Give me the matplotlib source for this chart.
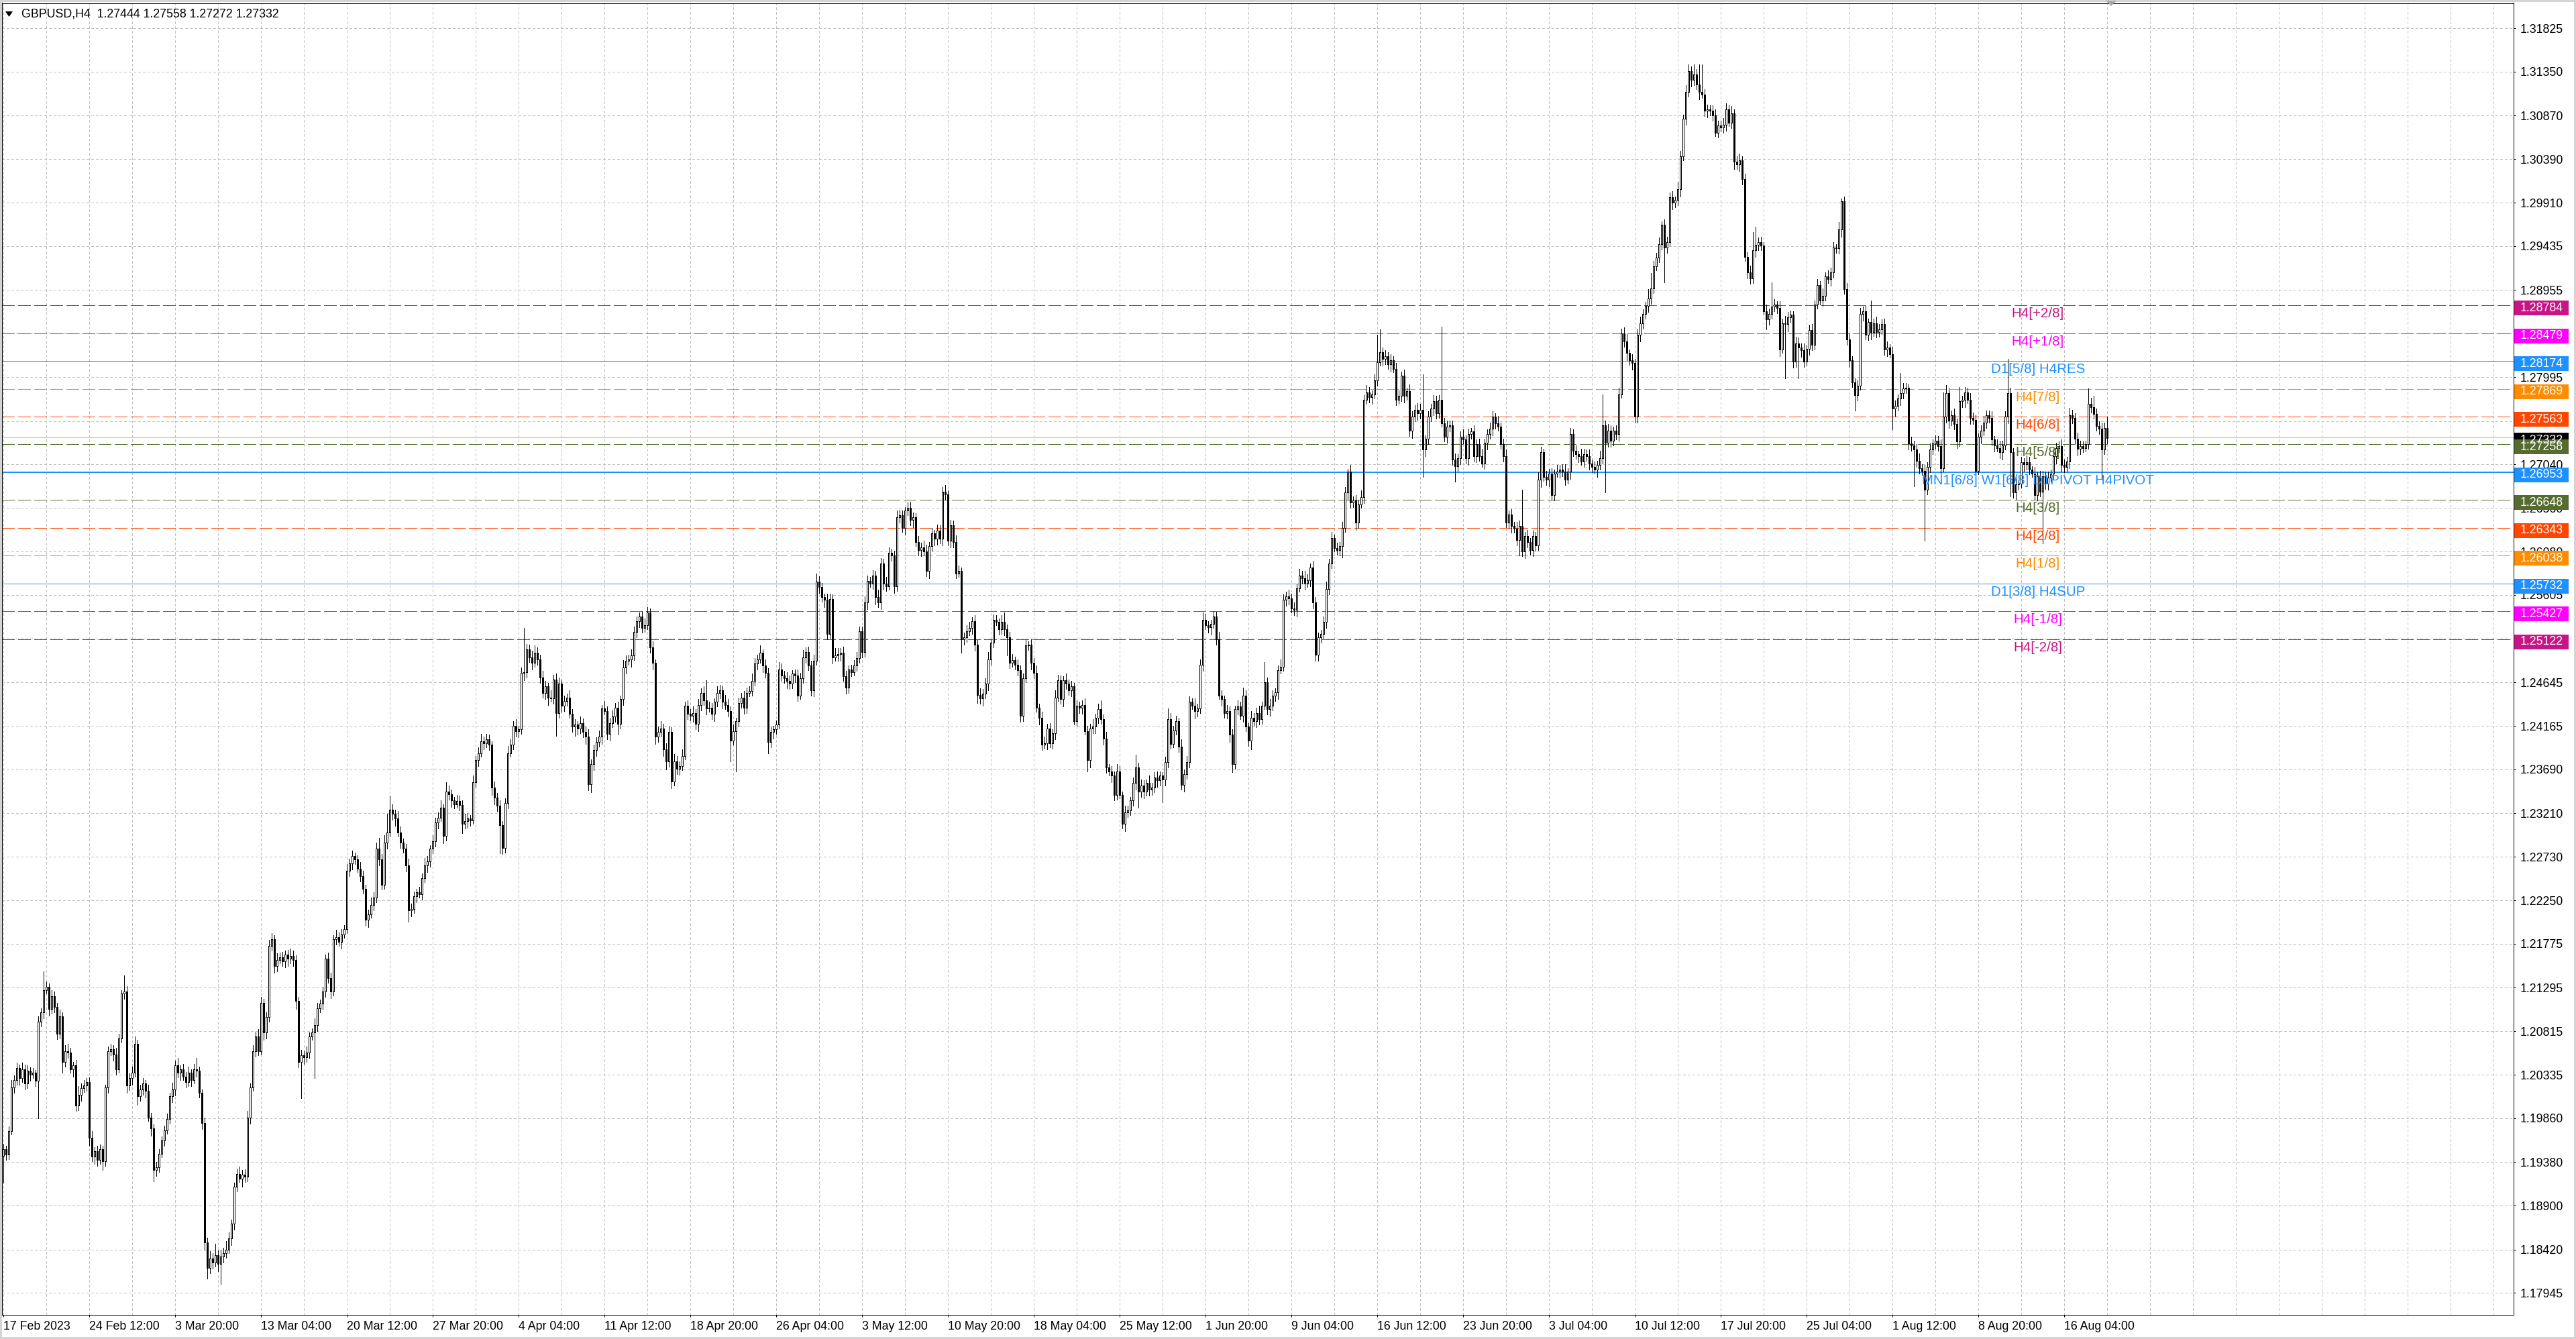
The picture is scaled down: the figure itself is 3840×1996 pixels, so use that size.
import numpy as np
import matplotlib
matplotlib.use("Agg")
import matplotlib.pyplot as plt
from matplotlib.patches import Rectangle, Polygon
from matplotlib.transforms import blended_transform_factory, offset_copy

plt.rcParams['font.family'] = ['Liberation Sans', 'DejaVu Sans']
plt.rcParams['lines.scale_dashes'] = False

# ---------------- data ----------------
header_text = "GBPUSD,H4  1.27444 1.27558 1.27272 1.27332"

first_open = 11945  # price * 10000
closes = [
    11952, 11946, 11972, 12020, 12028, 12041, 12030, 12040, 12024, 12038,
    12034, 12036, 12027, 12092, 12102, 12127, 12130, 12106, 12120, 12108,
    12079, 12098, 12048, 12060, 12058, 12040, 12044, 12000, 12012, 12019,
    12022, 12026, 11965, 11944, 11950, 11940, 11952, 11939, 12020, 12060,
    12062, 12056, 12040, 12074, 12123, 12125, 12022, 12030, 12036, 12068,
    12010, 12018, 12024, 12016, 11987, 11975, 11929, 11932, 11947, 11962,
    11973, 11985, 12010, 12018, 12044, 12036, 12040, 12032, 12026, 12036,
    12028, 12040, 12038, 12014, 11981, 11850, 11822, 11832, 11828, 11836,
    11826, 11834, 11838, 11842, 11854, 11870, 11911, 11925, 11920, 11924,
    11922, 11987, 12020, 12060, 12076, 12060, 12113, 12080, 12097, 12175,
    12183, 12153, 12160, 12163, 12158, 12166, 12161, 12164, 12160, 12115,
    12048, 12055, 12053, 12058, 12076, 12080, 12088, 12107, 12112, 12125,
    12161, 12140, 12125, 12183, 12185, 12180, 12188, 12194, 12258, 12266,
    12274, 12270, 12260, 12252, 12238, 12204, 12210, 12220, 12228, 12282,
    12270, 12242, 12289, 12300, 12325, 12320, 12315, 12300, 12289, 12282,
    12264, 12214, 12216, 12230, 12234, 12232, 12250, 12264, 12268, 12282,
    12290, 12311, 12316, 12327, 12296, 12345, 12342, 12335, 12331, 12334,
    12330, 12309, 12312, 12315, 12313, 12355, 12379, 12387, 12400, 12398,
    12402, 12396, 12349, 12338, 12329, 12308, 12283, 12332, 12387, 12396,
    12417, 12411, 12413, 12475, 12476, 12501, 12492, 12486, 12497, 12490,
    12470, 12453, 12460, 12448, 12447, 12468, 12431, 12463, 12439, 12444,
    12448, 12430, 12416, 12418, 12414, 12420, 12410, 12405, 12353, 12375,
    12390, 12399, 12405, 12436, 12433, 12408, 12420, 12427, 12437, 12419,
    12446, 12481, 12488, 12490, 12494, 12520, 12532, 12537, 12524, 12527,
    12541, 12503, 12486, 12405, 12410, 12414, 12391, 12378, 12410, 12356,
    12378, 12370, 12373, 12384, 12439, 12430, 12428, 12431, 12419, 12440,
    12453, 12445, 12436, 12437, 12430, 12443, 12453, 12456, 12443, 12440,
    12433, 12401, 12411, 12422, 12442, 12448, 12437, 12453, 12455, 12466,
    12485, 12490, 12497, 12483, 12475, 12399, 12410, 12413, 12418, 12479,
    12472, 12469, 12466, 12463, 12474, 12472, 12450, 12469, 12492, 12498,
    12483, 12456, 12488, 12575, 12569, 12558, 12555, 12518, 12556, 12492,
    12494, 12496, 12497, 12471, 12459, 12479, 12476, 12483, 12491, 12521,
    12498, 12552, 12576, 12573, 12582, 12558, 12552, 12595, 12573, 12570,
    12607, 12604, 12570, 12646, 12648, 12634, 12653, 12656, 12643, 12646,
    12619, 12610, 12613, 12608, 12587, 12614, 12628, 12622, 12631, 12622,
    12674, 12671, 12620, 12637, 12619, 12584, 12587, 12512, 12514, 12521,
    12524, 12532, 12506, 12451, 12447, 12452, 12463, 12490, 12508, 12533,
    12531, 12523, 12531, 12523, 12514, 12486, 12489, 12484, 12478, 12428,
    12469, 12505, 12506, 12486, 12475, 12437, 12426, 12396, 12398, 12414,
    12398, 12409, 12448, 12467, 12446, 12467, 12463, 12456, 12460, 12422,
    12439, 12437, 12440, 12411, 12379, 12414, 12416, 12426, 12435, 12424,
    12403, 12371, 12367, 12362, 12341, 12367, 12341, 12309, 12322, 12324,
    12335, 12354, 12371, 12345, 12351, 12345, 12354, 12347, 12349, 12360,
    12357, 12362, 12358, 12377, 12424, 12397, 12412, 12422, 12394, 12352,
    12364, 12377, 12443, 12439, 12433, 12436, 12484, 12533, 12527, 12525,
    12529, 12537, 12512, 12450, 12446, 12431, 12433, 12407, 12375, 12435,
    12438, 12428, 12450, 12416, 12401, 12426, 12422, 12431, 12424, 12439,
    12465, 12435, 12439, 12450, 12454, 12478, 12482, 12555, 12559, 12557,
    12546, 12544, 12568, 12582, 12579, 12574, 12577, 12591, 12552, 12495,
    12514, 12518, 12531, 12567, 12595, 12623, 12612, 12610, 12614, 12634,
    12673, 12696, 12662, 12664, 12640, 12660, 12668, 12775, 12783, 12778,
    12781, 12796, 12816, 12827, 12820, 12823, 12814, 12818, 12809, 12775,
    12779, 12801, 12779, 12784, 12741, 12756, 12764, 12760, 12764, 12720,
    12732, 12756, 12765, 12773, 12760, 12775, 12749, 12734, 12745, 12747,
    12709, 12702, 12711, 12734, 12731, 12711, 12737, 12740, 12713, 12726,
    12713, 12705, 12728, 12737, 12743, 12756, 12749, 12745, 12726, 12713,
    12640, 12649, 12636, 12633, 12621, 12636, 12608, 12625, 12619, 12610,
    12625, 12615, 12687, 12717, 12690, 12687, 12694, 12670, 12694, 12696,
    12698, 12696, 12687, 12696, 12737, 12719, 12715, 12713, 12707, 12715,
    12713, 12705, 12701, 12698, 12703, 12711, 12747, 12728, 12741, 12730,
    12741, 12737, 12781, 12848, 12839, 12826, 12818, 12815, 12756, 12846,
    12859, 12869, 12878, 12886, 12897, 12921, 12931, 12946, 12967, 12942,
    12948, 12997, 12991, 12994, 13006, 13042, 13083, 13113, 13136, 13126,
    13132, 13121, 13113, 13110, 13092, 13094, 13092, 13087, 13068, 13076,
    13074, 13077, 13094, 13079, 13089, 13036, 13033, 13038, 13017, 12932,
    12915, 12908, 12939, 12945, 12948, 12944, 12872, 12863, 12869, 12877,
    12879, 12876, 12830, 12859, 12858, 12865, 12868, 12817, 12837, 12832,
    12829, 12817, 12831, 12851, 12835, 12879, 12901, 12884, 12889, 12910,
    12907, 12915, 12942, 12941, 12962, 12993, 12896, 12841, 12818, 12794,
    12780, 12790, 12869, 12872, 12846, 12860, 12849, 12859, 12849, 12852,
    12858, 12830, 12832, 12825, 12765, 12768, 12776, 12782, 12787, 12788,
    12727, 12725, 12720, 12708, 12700, 12697, 12676, 12701, 12720, 12727,
    12730, 12724, 12700, 12756, 12782, 12752, 12758, 12748, 12729, 12773,
    12775, 12783, 12775, 12755, 12753, 12697, 12734, 12741, 12750, 12758,
    12755, 12731, 12725, 12722, 12717, 12725, 12756, 12782, 12717, 12673,
    12682, 12683, 12706, 12704, 12706, 12698, 12694, 12670, 12691, 12674,
    12691, 12683, 12689, 12694, 12713, 12722, 12724, 12703, 12701, 12707,
    12758, 12755, 12732, 12721, 12724, 12722, 12726, 12770, 12767, 12759,
    12746, 12743, 12720, 12744, 12733,
]

# wick length above / below the candle body, in pips
high_wick = [
    6, 4, 5, 8, 5, 6, 4, 7, 5, 6, 4, 5, 3, 6, 5, 20, 6, 4, 7, 5,
    5, 7, 4, 6, 8, 5, 4, 6, 9, 5, 6, 4, 5, 7, 4, 6, 5, 4, 3, 5,
    6, 4, 7, 5, 4, 18, 6, 5, 7, 8, 4, 5, 6, 4, 7, 5, 4, 6, 5, 4,
    5, 6, 4, 7, 5, 8, 4, 6, 5, 7, 4, 6, 12, 5, 4, 6, 5, 8, 6, 12,
    5, 8, 6, 9, 7, 5, 4, 6, 8, 5, 6, 7, 4, 6, 5, 8, 6, 4, 5, 7,
    6, 4, 7, 5, 6, 4, 5, 8, 6, 5, 4, 6, 5, 7, 4, 5, 8, 6, 4, 5,
    5, 7, 6, 4, 8, 5, 6, 4, 7, 5, 6, 4, 5, 7, 6, 4, 5, 8, 6, 7,
    12, 6, 8, 20, 15, 6, 5, 8, 6, 4, 5, 7, 6, 5, 4, 6, 5, 8, 6, 4,
    7, 5, 6, 8, 4, 10, 6, 5, 4, 7, 6, 5, 8, 6, 4, 7, 5, 6, 8, 5,
    6, 5, 4, 7, 5, 6, 4, 5, 8, 6, 5, 7, 4, 6, 48, 6, 5, 7, 8, 6,
    5, 7, 6, 4, 8, 5, 6, 7, 5, 6, 4, 8, 5, 6, 4, 7, 5, 6, 8, 5,
    6, 5, 7, 4, 8, 5, 6, 7, 5, 6, 4, 8, 6, 5, 7, 6, 5, 4, 6, 8,
    6, 5, 7, 4, 6, 8, 5, 7, 6, 5, 8, 6, 5, 7, 4, 6, 5, 7, 4, 6,
    5, 7, 22, 6, 5, 4, 7, 6, 5, 8, 6, 5, 7, 4, 6, 5, 7, 6, 5, 8,
    6, 5, 8, 4, 7, 5, 6, 4, 5, 8, 6, 5, 7, 6, 4, 5, 7, 6, 8, 5,
    6, 5, 7, 9, 6, 5, 4, 7, 6, 5, 8, 6, 5, 7, 6, 4, 5, 6, 7, 5,
    5, 7, 6, 4, 6, 5, 8, 6, 5, 7, 6, 4, 5, 7, 6, 5, 4, 6, 7, 5,
    4, 6, 5, 7, 8, 5, 6, 4, 7, 6, 5, 7, 4, 6, 5, 7, 6, 4, 5, 6,
    7, 4, 6, 5, 7, 5, 6, 8, 4, 6, 5, 4, 7, 10, 5, 6, 7, 4, 6, 5,
    5, 7, 4, 6, 5, 8, 4, 6, 7, 5, 6, 4, 8, 6, 5, 4, 7, 5, 6, 4,
    6, 4, 5, 7, 6, 5, 8, 4, 6, 10, 5, 7, 4, 6, 5, 8, 6, 4, 7, 5,
    4, 6, 14, 5, 7, 6, 4, 8, 5, 6, 7, 5, 4, 6, 12, 7, 5, 6, 4, 8,
    5, 7, 6, 4, 8, 5, 6, 8, 7, 5, 4, 6, 5, 8, 6, 4, 7, 5, 6, 4,
    7, 5, 9, 6, 4, 7, 5, 6, 8, 4, 22, 5, 7, 6, 4, 5, 8, 6, 5, 7,
    5, 6, 4, 7, 5, 8, 6, 4, 7, 6, 5, 4, 6, 8, 5, 7, 4, 6, 5, 7,
    6, 3, 7, 5, 6, 4, 7, 5, 8, 6, 4, 7, 30, 25, 5, 6, 4, 7, 5, 6,
    6, 5, 7, 4, 8, 6, 5, 7, 6, 39, 4, 6, 5, 7, 6, 5, 80, 6, 7, 5,
    5, 7, 4, 6, 8, 5, 6, 4, 7, 5, 6, 8, 4, 5, 7, 6, 4, 8, 5, 6,
    7, 4, 6, 5, 8, 6, 40, 5, 7, 4, 6, 5, 8, 6, 4, 7, 5, 6, 4, 7,
    5, 6, 8, 4, 7, 5, 6, 4, 8, 6, 5, 7, 4, 6, 5, 8, 34, 5, 7, 6,
    4, 6, 7, 5, 6, 8, 4, 7, 5, 6, 7, 5, 4, 10, 17, 6, 5, 7, 4, 6,
    6, 5, 7, 4, 8, 6, 5, 7, 7, 5, 11, 6, 22, 30, 6, 5, 4, 6, 7, 5,
    5, 7, 6, 4, 8, 5, 6, 7, 4, 6, 5, 7, 20, 20, 5, 6, 4, 7, 6, 27,
    6, 4, 7, 5, 8, 6, 5, 4, 7, 6, 5, 8, 4, 6, 7, 5, 6, 4, 8, 5,
    7, 5, 6, 4, 8, 3, 5, 7, 6, 5, 4, 6, 7, 5, 6, 4, 24, 5, 7, 6,
    5, 6, 7, 4, 8, 6, 5, 22, 6, 5, 4, 7, 5, 6, 8, 4, 6, 5, 7, 4,
    6, 5, 7, 27, 9, 6, 5, 7, 6, 16, 4, 6, 5, 7, 6, 5, 4, 6, 7, 5,
    5, 7, 4, 6, 8, 5, 6, 38, 6, 5, 7, 4, 6, 5, 8, 6, 4, 7, 5, 6,
    6, 5, 7, 4, 8, 6, 5, 7, 6, 5, 8, 6, 5, 7, 6, 5, 4, 17, 7, 12,
    6, 5, 7, 6, 12,
]
low_wick = [
    30, 6, 5, 4, 6, 5, 7, 4, 6, 5, 7, 4, 6, 41, 5, 6, 4, 7, 5, 6,
    6, 5, 12, 5, 6, 4, 8, 6, 5, 7, 4, 6, 9, 5, 8, 6, 4, 10, 5, 6,
    5, 7, 6, 4, 5, 6, 8, 5, 7, 4, 9, 5, 6, 7, 4, 8, 12, 6, 5, 4,
    6, 4, 5, 6, 7, 5, 8, 4, 6, 5, 7, 4, 6, 5, 7, 8, 12, 6, 7, 5,
    8, 22, 6, 5, 4, 7, 6, 5, 4, 9, 6, 5, 7, 4, 6, 5, 4, 8, 6, 5,
    5, 7, 6, 4, 5, 6, 8, 5, 7, 9, 6, 40, 7, 5, 6, 4, 50, 6, 5, 7,
    6, 5, 7, 4, 6, 5, 8, 4, 5, 6, 7, 5, 4, 6, 5, 7, 8, 4, 6, 5,
    6, 5, 4, 7, 5, 6, 8, 5, 6, 4, 7, 12, 6, 5, 7, 4, 6, 5, 8, 6,
    5, 6, 7, 4, 8, 5, 6, 7, 5, 4, 6, 10, 5, 7, 6, 4, 5, 6, 4, 7,
    5, 6, 8, 7, 6, 31, 7, 5, 6, 4, 5, 6, 7, 5, 8, 6, 5, 7, 4, 6,
    6, 5, 7, 8, 4, 6, 25, 5, 7, 6, 5, 4, 6, 10, 7, 5, 6, 8, 7, 9,
    7, 6, 5, 8, 4, 6, 7, 5, 6, 12, 5, 6, 7, 4, 8, 5, 6, 7, 5, 4,
    4, 6, 7, 8, 6, 5, 7, 9, 6, 8, 5, 6, 7, 5, 4, 6, 5, 7, 6, 8,
    6, 5, 7, 4, 6, 8, 5, 6, 7, 5, 6, 23, 5, 44, 6, 5, 7, 6, 4, 5,
    5, 6, 4, 7, 5, 12, 6, 7, 5, 4, 6, 5, 8, 6, 5, 7, 6, 4, 5, 6,
    5, 6, 7, 4, 6, 5, 8, 6, 5, 7, 4, 6, 8, 5, 7, 6, 5, 4, 6, 5,
    6, 5, 7, 4, 6, 8, 5, 7, 6, 5, 4, 6, 7, 5, 6, 4, 7, 5, 6, 8,
    5, 6, 7, 4, 6, 8, 5, 7, 6, 5, 7, 6, 5, 7, 6, 5, 4, 15, 6, 5,
    5, 6, 7, 9, 6, 8, 5, 7, 6, 5, 4, 6, 5, 7, 20, 6, 4, 5, 6, 7,
    6, 4, 5, 7, 6, 5, 8, 6, 4, 7, 5, 6, 7, 4, 5, 8, 6, 5, 7, 4,
    5, 6, 7, 4, 12, 8, 5, 7, 6, 5, 7, 6, 5, 7, 6, 5, 4, 5, 8, 5,
    5, 6, 7, 18, 6, 8, 5, 7, 6, 5, 7, 6, 25, 7, 6, 5, 4, 5, 6, 5,
    7, 5, 6, 4, 8, 6, 5, 7, 4, 6, 8, 5, 6, 4, 7, 5, 6, 8, 9, 5,
    6, 4, 7, 5, 6, 10, 5, 7, 6, 5, 4, 6, 7, 5, 6, 8, 4, 5, 6, 7,
    5, 6, 7, 4, 6, 8, 5, 7, 6, 7, 7, 6, 5, 7, 6, 5, 4, 5, 6, 12,
    4, 7, 6, 5, 8, 6, 4, 7, 5, 6, 8, 5, 6, 4, 7, 6, 5, 8, 4, 6,
    5, 6, 7, 4, 6, 8, 5, 7, 6, 30, 7, 6, 5, 7, 6, 5, 4, 5, 6, 5,
    6, 17, 5, 7, 4, 6, 8, 5, 6, 7, 5, 4, 6, 8, 5, 7, 6, 4, 5, 6,
    5, 6, 7, 4, 6, 17, 5, 7, 6, 5, 7, 6, 5, 8, 4, 6, 7, 5, 6, 4,
    7, 5, 6, 4, 8, 6, 5, 7, 4, 6, 5, 7, 6, 4, 8, 5, 6, 55, 5, 7,
    5, 6, 7, 4, 6, 8, 5, 7, 6, 6, 7, 6, 5, 7, 6, 5, 4, 5, 6, 38,
    6, 4, 7, 5, 6, 8, 4, 6, 5, 7, 6, 5, 8, 4, 6, 7, 5, 6, 4, 5,
    5, 6, 7, 4, 6, 8, 5, 7, 6, 5, 7, 6, 5, 7, 6, 5, 4, 11, 6, 5,
    5, 6, 7, 4, 60, 8, 5, 7, 6, 34, 7, 6, 5, 7, 6, 5, 4, 5, 6, 5,
    4, 7, 6, 5, 6, 8, 5, 6, 7, 5, 17, 6, 4, 7, 5, 6, 8, 4, 6, 5,
    5, 6, 7, 4, 23, 8, 5, 7, 6, 5, 7, 6, 40, 7, 6, 5, 56, 5, 6, 5,
    6, 5, 7, 4, 6, 8, 5, 6, 7, 5, 6, 8, 4, 7, 5, 6, 4, 7, 5, 6,
    5, 6, 7, 4, 6, 8, 5, 7, 48, 6, 7, 6, 5, 7, 6, 5, 4, 5, 6, 5,
    57, 6, 7, 4, 6, 8, 5, 7, 6, 5, 7, 6, 5, 7, 6, 5, 4, 5, 6, 5,
    5, 6, 32, 5, 6,
]

x_tick_labels = [
    "17 Feb 2023", "24 Feb 12:00", "3 Mar 20:00", "13 Mar 04:00", "20 Mar 12:00",
    "27 Mar 20:00", "4 Apr 04:00", "11 Apr 12:00", "18 Apr 20:00", "26 Apr 04:00",
    "3 May 12:00", "10 May 20:00", "18 May 04:00", "25 May 12:00", "1 Jun 20:00",
    "9 Jun 04:00", "16 Jun 12:00", "23 Jun 20:00", "3 Jul 04:00", "10 Jul 12:00",
    "17 Jul 20:00", "25 Jul 04:00", "1 Aug 12:00", "8 Aug 20:00", "16 Aug 04:00",
]
bars_per_label = 32
bars_per_grid = 16

price_ticks = [
    1.31825, 1.31350, 1.30870, 1.30390, 1.29910, 1.29435, 1.28955, 1.28475,
    1.27995, 1.27515, 1.27040, 1.26560, 1.26080, 1.25605, 1.25125, 1.24645,
    1.24165, 1.23690, 1.23210, 1.22730, 1.22250, 1.21775, 1.21295, 1.20815,
    1.20335, 1.19860, 1.19380, 1.18900, 1.18420, 1.17945,
]

level_prices = [1.28784, 1.28479, 1.28174, 1.27869, 1.27563, 1.27258, 1.26953,
                1.26648, 1.26343, 1.26038, 1.25732, 1.25427, 1.25122]
level_names = ["H4[+2/8]", "H4[+1/8]", "D1[5/8] H4RES", "H4[7/8]", "H4[6/8]",
               "H4[5/8]", "MN1[6/8] W1[6/8] D1PIVOT H4PIVOT", "H4[3/8]", "H4[2/8]",
               "H4[1/8]", "D1[3/8] H4SUP", "H4[-1/8]", "H4[-2/8]"]
level_colors = ["#C71585", "#FF00FF", "#1E90FF", "#FF8C00", "#FF4500", "#556B2F",
                "#1E90FF", "#556B2F", "#FF4500", "#FF8C00", "#1E90FF", "#FF00FF",
                "#C71585"]
level_dashed = [True, True, False, True, True, True, False, True, True, True,
                False, True, True]
level_widths_px = [1, 1, 1, 1, 1, 1, 2, 1, 1, 1, 1, 1, 1]

bid_price = 1.27332
level_label_bar = 758.3

# ---------------- figure geometry (pixels) ----------------
W, H = 3840, 1996
PX = 0.72  # points per pixel at dpi 100
ax_l, ax_r, ax_t, ax_b = 3.0, 3747.0, 4.5, 1960.0
y_top, y_bot = 1.32104, 1.17702
bar_px = 4.0
first_bar_px = 4.7

fig = plt.figure(figsize=(W / 100, H / 100), dpi=100)
fig.patch.set_facecolor("white")
ax = fig.add_axes([ax_l / W, (H - ax_b) / H, (ax_r - ax_l) / W, (ax_b - ax_t) / H])
x_left = -(first_bar_px - ax_l) / bar_px
ax.set_xlim(x_left, x_left + (ax_r - ax_l) / bar_px)
ax.set_ylim(y_bot, y_top)
px_per_price = (ax_b - ax_t) / (y_top - y_bot)

n = min(len(closes), len(high_wick), len(low_wick))
c = np.array(closes[:n], dtype=float) / 1e4
o = np.array([first_open] + closes[:n - 1], dtype=float) / 1e4
hi = np.maximum(o, c) + np.array(high_wick[:n]) / 1e4
lo = np.minimum(o, c) - np.array(low_wick[:n]) / 1e4
x = np.arange(n)

# grid
for p in price_ticks:
    ax.axhline(p, color="#C0C0C0", lw=1 * PX, linestyle=(0, (2.2, 2.2)), zorder=1,
               antialiased=False)
for gx in range(0, int(ax.get_xlim()[1]) + 1, bars_per_grid):
    ax.axvline(gx, color="#C0C0C0", lw=1 * PX, linestyle=(0, (2.2, 2.2)), zorder=1,
               antialiased=False)

# level lines
for p, col, d, w in zip(level_prices, level_colors, level_dashed, level_widths_px):
    ls = (0, (13.0, 4.3)) if d else "-"
    ax.axhline(p, color=col, lw=w * PX, linestyle=ls, zorder=2, antialiased=False)
ax.axhline(bid_price, color="#C0C0C0", lw=1 * PX, zorder=2, antialiased=False)

# candles
ax.vlines(x, lo, hi, color="black", lw=1 * PX, zorder=3, antialiaseds=False)
up = c >= o
ax.bar(x[up], (c - o)[up], bottom=o[up], width=0.55, facecolor="white",
       edgecolor="black", linewidth=1 * PX, zorder=4, antialiased=False)
ax.bar(x[~up], (o - c)[~up], bottom=c[~up], width=0.55, facecolor="black",
       edgecolor="black", linewidth=1 * PX, zorder=4, antialiased=False)

# level text labels
lab_tr = offset_copy(ax.transData, fig=fig, x=0, y=-12.5, units="dots")
for p, name, col in zip(level_prices, level_names, level_colors):
    ax.text(level_label_bar, p, name, color=col, fontsize=14.8, ha="center",
            va="center", transform=lab_tr, zorder=6)

# axes styling
for s in ax.spines.values():
    s.set_color("black")
    s.set_linewidth(1 * PX)
    s.set_antialiased(False)
ax.yaxis.tick_right()
ax.set_yticks(price_ticks)
ax.set_yticklabels([f"{p:.5f}" for p in price_ticks])
ax.tick_params(axis="y", length=3 * PX, width=1 * PX, pad=5.0, labelsize=12.8,
               direction="out", colors="black")
xt = [i * bars_per_label for i in range(len(x_tick_labels))]
ax.set_xticks(xt)
ax.set_xticklabels(x_tick_labels, ha="left")
ax.tick_params(axis="x", length=3 * PX, width=1 * PX, pad=4.0, labelsize=12.8,
               direction="out", colors="black")

# price boxes on the right scale (slightly below their lines, as in the terminal)
bl = blended_transform_factory(ax.transAxes, ax.transData)
ax_w = ax_r - ax_l
box_x0 = (3748 - ax_l) / ax_w
box_w = 81 / ax_w
txt_x = (3757 - ax_l) / ax_w
box_h = 22 / px_per_price
box_shift = 4 / px_per_price

def price_box(p, col):
    yc = p - box_shift
    ax.add_patch(Rectangle((box_x0, yc - box_h / 2), box_w, box_h, transform=bl,
                           facecolor=col, edgecolor="none", clip_on=False, zorder=10,
                           antialiased=False))
    ax.text(txt_x, yc, f"{p:.5f}", transform=bl, color="white", fontsize=12.8,
            ha="left", va="center", clip_on=False, zorder=11)

price_box(bid_price, "black")
for p, col in zip(level_prices, level_colors):
    price_box(p, col)

# header
fig.text(32.5 / W, 1 - 21.5 / H, header_text, fontsize=12.8, ha="left",
         va="center", color="black")
fig.patches.append(Polygon([[8 / W, 1 - 17 / H], [19 / W, 1 - 17 / H], [13.5 / W, 1 - 25 / H]],
                           closed=True, transform=fig.transFigure, facecolor="black",
                           edgecolor="none"))
# chart shift marker
fig.patches.append(Polygon([[3139 / W, 1 - 1 / H], [3155 / W, 1 - 1 / H], [3147 / W, 1 - 9 / H]],
                           closed=True, transform=fig.transFigure, facecolor="#A8A8A8",
                           edgecolor="none", zorder=20))
# outer window frame
fig.patches.append(Rectangle((0, 0), 1, 1, transform=fig.transFigure, fill=False,
                             edgecolor="#D4D4D4", linewidth=6 * PX, zorder=0))

fig.savefig("out.png", dpi=100, facecolor="white")
